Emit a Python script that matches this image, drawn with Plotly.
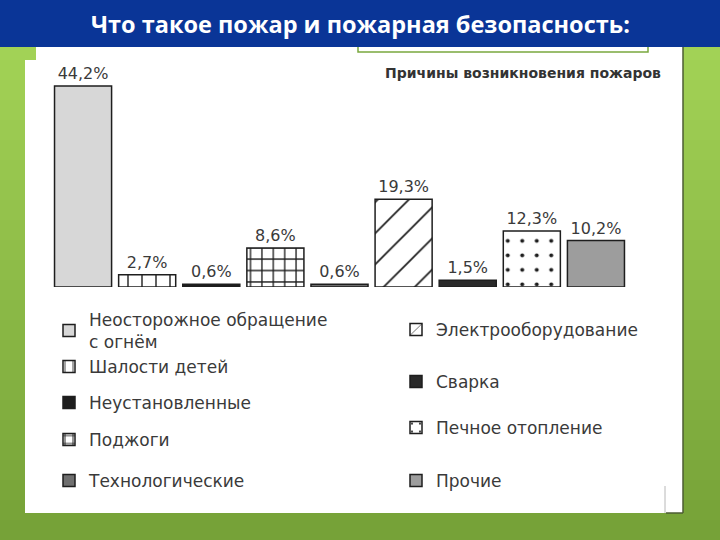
import plotly.graph_objects as go

# ---------------- data ----------------
causes = [
    "Неосторожное обращение<br>с огнём",
    "Шалости детей",
    "Неустановленные",
    "Поджоги",
    "Технологические",
    "Электрооборудование",
    "Сварка",
    "Печное отопление",
    "Прочие",
]
shares = [44.2, 2.7, 0.6, 8.6, 0.6, 19.3, 1.5, 12.3, 10.2]
slide_title = "Что такое пожар и пожарная безопасность:"
chart_title = "Причины возникновения пожаров"

# ---------------- styles ----------------
W, H = 720, 540
fills = ["#d7d7d7", "white", "#1d1d1d", "white", "#6f6f6f",
         "white", "#2a2a2a", "white", "#9d9d9d"]
patterns = [
    None,
    dict(shape="|", size=14, solidity=0.1, fgcolor="#1e1e1e", bgcolor="white", fillmode="replace"),
    None,
    dict(shape="+", size=11.4, solidity=0.22, fgcolor="#1e1e1e", bgcolor="white", fillmode="replace"),
    None,
    dict(shape="/", size=22, solidity=0.08, fgcolor="#1e1e1e", bgcolor="white", fillmode="replace"),
    None,
    dict(shape=".", size=14.5, solidity=0.06, fgcolor="#1e1e1e", bgcolor="white", fillmode="replace"),
    None,
]
# legend item positions (px): (x of legend box, centre y)
legend_pos = [(49, 331), (49, 367), (49, 403), (49, 440), (49, 481),
              (396, 330), (396, 382), (396, 428), (396, 481)]

fig = go.Figure()
for i, (name, val) in enumerate(zip(causes, shares)):
    marker = dict(color=fills[i], line=dict(color="#1e1e1e", width=1.5))
    if patterns[i] is not None:
        marker["pattern"] = patterns[i]
    fig.add_trace(go.Bar(
        x=[name], y=[val], name=name,
        marker=marker,
        text=[val], texttemplate="%{y:.1f}%", textposition="outside",
        textfont=dict(family="DejaVu Sans", size=16, color="#3a3a3a"),
        cliponaxis=False,
        legend="legend" if i == 0 else f"legend{i + 1}",
        hoverinfo="skip",
    ))

legends = {}
for i, (lx, ly) in enumerate(legend_pos):
    key = "legend" if i == 0 else f"legend{i + 1}"
    legends[key] = dict(
        x=lx / W, y=1 - ly / H, xanchor="left", yanchor="middle",
        bgcolor="rgba(0,0,0,0)", borderwidth=0,
        font=dict(family="DejaVu Sans", size=17, color="#3a3a3a"),
        itemclick=False, itemdoubleclick=False,
    )

# ---------------- background shapes ----------------
shapes = []
# green slide background as vertical gradient bands
top_c = (166, 214, 88)
bot_c = (118, 162, 56)
nb = 27
for k in range(nb):
    t = k / (nb - 1)
    c = tuple(int(round(top_c[j] + (bot_c[j] - top_c[j]) * t)) for j in range(3))
    shapes.append(dict(type="rect", xref="paper", yref="paper", layer="below",
                       x0=0, x1=1, y0=1 - (k + 1) * 20 / H, y1=1 - k * 20 / H,
                       fillcolor="rgb(%d,%d,%d)" % c, line=dict(width=0)))
# outer white slide panel
shapes.append(dict(type="rect", xref="paper", yref="paper", layer="below",
                   x0=36 / W, x1=683 / W, y0=1 - 513 / H, y1=1 - 40 / H,
                   fillcolor="white", line=dict(width=0)))
shapes.append(dict(type="line", xref="paper", yref="paper", layer="below",
                   x0=683 / W, x1=683 / W, y0=1 - 513 / H, y1=1 - 40 / H,
                   line=dict(color="#4d5c33", width=1.5)))
shapes.append(dict(type="line", xref="paper", yref="paper", layer="below",
                   x0=666 / W, x1=683 / W, y0=1 - 513 / H, y1=1 - 513 / H,
                   line=dict(color="#4d5c33", width=1.5)))
# scanned sheet
shapes.append(dict(type="rect", xref="paper", yref="paper", layer="below",
                   x0=25 / W, x1=665 / W, y0=1 - 513 / H, y1=1 - 60 / H,
                   fillcolor="white", line=dict(width=0)))
shapes.append(dict(type="line", xref="paper", yref="paper", layer="below",
                   x0=665 / W, x1=665 / W, y0=1 - 513 / H, y1=1 - 486 / H,
                   line=dict(color="#b8b8b8", width=1)))
# green-outlined box peeking under the title bar
shapes.append(dict(type="rect", xref="paper", yref="paper", layer="below",
                   x0=358 / W, x1=648 / W, y0=1 - 52 / H, y1=1 - 30 / H,
                   fillcolor="white", line=dict(color="#7aa83e", width=1.5)))
# blue title bar
shapes.append(dict(type="rect", xref="paper", yref="paper", layer="below",
                   x0=0, x1=1, y0=1 - 47 / H, y1=1,
                   fillcolor="#0a3597", line=dict(width=0)))

annotations = [
    dict(text=slide_title, xref="paper", yref="paper", x=360 / W, y=1 - 24 / H,
         xanchor="center", yanchor="middle", showarrow=False,
         font=dict(family="Open Sans", size=23.5, color="white", weight="bold")),
    dict(text=chart_title, xref="paper", yref="paper", x=663 / W, y=1 - 73 / H,
         xanchor="right", yanchor="middle", showarrow=False,
         font=dict(family="DejaVu Sans", size=14, color="#333333", weight="bold")),
]

y_bottom_px, y_top_px = 287, 86
y_max = 50
plot_top_px = y_bottom_px - (y_bottom_px - y_top_px) * y_max / max(shares)

fig.update_layout(
    width=W, height=H,
    margin=dict(l=0, r=0, t=0, b=0),
    paper_bgcolor="#8cbf45",
    plot_bgcolor="rgba(0,0,0,0)",
    barmode="overlay",
    bargap=0.11,
    separators=", ",
    showlegend=True,
    xaxis=dict(domain=[51 / W, 628 / W], type="category", categoryorder="array",
               categoryarray=causes, range=[-0.5, 8.5], visible=False, fixedrange=True),
    yaxis=dict(domain=[1 - y_bottom_px / H, 1 - plot_top_px / H], range=[0, y_max],
               visible=False, fixedrange=True),
    shapes=shapes,
    annotations=annotations,
    **legends,
)

fig.write_html("out.html")
